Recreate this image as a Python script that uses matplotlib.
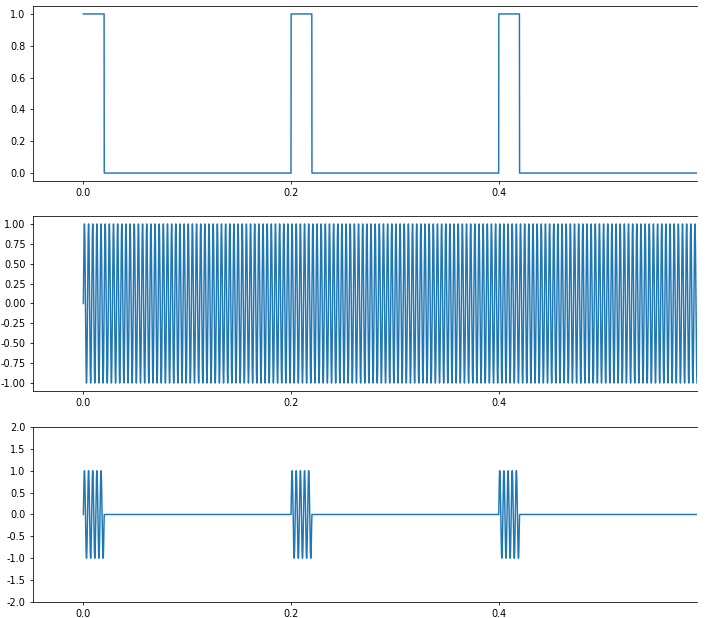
import numpy as np
import matplotlib.pyplot as plt

# ----------------------------
# Signal parameters
# ----------------------------
fs = 20000            # samples per second
t_end = 1.0           # signal length [s]
f_carrier = 250       # carrier frequency [Hz]
pulse_period = 0.2    # gate period [s]
pulse_width = 0.02    # gate width [s]

x_limits = [-0.049, 0.591]
x_ticks = [0.0, 0.2, 0.4]
y_ticks_top = [0.0, 0.2, 0.4, 0.6, 0.8, 1.0]
y_ticks_mid = [-1.0, -0.75, -0.5, -0.25, 0.0, 0.25, 0.5, 0.75, 1.0]
y_ticks_bot = [-2.0, -1.5, -1.0, -0.5, 0.0, 0.5, 1.0, 1.5, 2.0]

t = np.arange(0, t_end, 1.0 / fs)
gate = ((t % pulse_period) < pulse_width).astype(float)
carrier = np.sin(2 * np.pi * f_carrier * t)
burst = gate * carrier

# the reference looks like a bigger figure shrunk down, so scale everything ~0.7
s = 0.7
plt.rcParams.update({
    "font.size": 10 * s,
    "lines.linewidth": 1.5 * s,
    "axes.linewidth": 0.8 * s,
    "axes.unicode_minus": False,
    "xtick.major.size": 3.5 * s,
    "ytick.major.size": 3.5 * s,
    "xtick.major.width": 0.8 * s,
    "ytick.major.width": 0.8 * s,
    "xtick.major.pad": 3.5 * s,
    "ytick.major.pad": 3.5 * s,
})

fig = plt.figure(figsize=(7.05, 6.18), dpi=100)
left, width, height = 0.0461, 0.9426, 0.2832
ax1 = fig.add_axes([left, 0.7071, width, height])
ax2 = fig.add_axes([left, 0.3673, width, height])
ax3 = fig.add_axes([left, 0.0259, width, height])

ax1.plot(t, gate)
ax2.plot(t, carrier)
ax3.plot(t, burst)

for ax in (ax1, ax2, ax3):
    ax.set_xlim(x_limits)
    ax.set_xticks(x_ticks)
    ax.spines["right"].set_visible(False)

ax1.set_ylim(-0.05, 1.05)
ax1.set_yticks(y_ticks_top)
ax2.set_ylim(-1.1, 1.1)
ax2.set_yticks(y_ticks_mid)
ax3.set_ylim(-2.0, 2.0)
ax3.set_yticks(y_ticks_bot)

fig.savefig("out.png", dpi=100)
